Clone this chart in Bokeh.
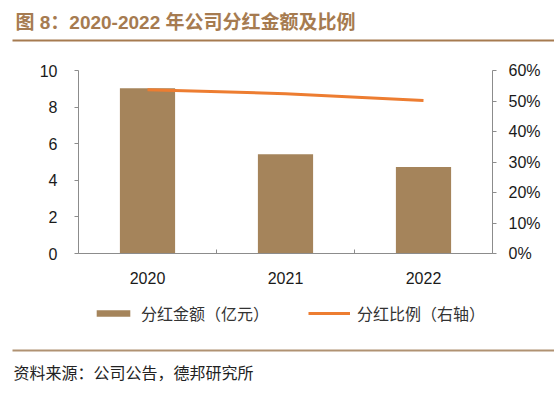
from bokeh.plotting import figure
from bokeh.models import (Range1d, LinearAxis, FixedTicker, NumeralTickFormatter,
                          Label, Legend, LegendItem, BoxAnnotation, ColumnDataSource)
from bokeh.embed import file_html
from bokeh.resources import INLINE

# ---- data ----
years = ["2020", "2021", "2022"]
dividend = [9.03, 5.43, 4.72]          # 分红金额（亿元）
ratio = [0.537, 0.524, 0.502]          # 分红比例（右轴）
left_ticks = [0, 2, 4, 6, 8, 10]
right_ticks = [0, 0.1, 0.2, 0.3, 0.4, 0.5, 0.6]

title_text = "图 8：2020-2022 年公司分红金额及比例"
source_text = "资料来源：公司公告，德邦研究所"
bar_label = "分红金额（亿元）"
line_label = "分红比例（右轴）"

BAR = "#a5845b"
LINE = "#ed7d31"
BROWN = "#a67b50"
AXIS = "#8c8c8c"
LAT = "Liberation Sans"
CJK = "Noto Sans CJK SC"

# ---- layout (pixels) ----
W, H = 554, 394
PLOT_L, PLOT_R = 78, 492          # x of left / right axis
PLOT_T, PLOT_B = 70, 253          # y of top / bottom of value axes
n = len(years)
px_per_slot = (PLOT_R - PLOT_L) / n
y_max = left_ticks[-1]
px_per_unit = (PLOT_B - PLOT_T) / y_max
pct_scale = right_ticks[-1] / y_max

x0 = -PLOT_L / px_per_slot
x1 = x0 + W / px_per_slot
y0 = -(H - PLOT_B) / px_per_unit
y1 = y0 + H / px_per_unit

xs = [i + 0.5 for i in range(n)]
src = ColumnDataSource(dict(x=xs, year=years, dividend=dividend, ratio=ratio))

p = figure(width=W, height=H, output_backend="svg", toolbar_location=None, title=None,
           x_range=Range1d(x0, x1), y_range=Range1d(y0, y1),
           x_axis_type=None, y_axis_type=None, min_border=0)
p.extra_y_ranges = {"pct": Range1d(y0 * pct_scale, y1 * pct_scale)}
p.outline_line_color = None
p.xgrid.visible = False
p.ygrid.visible = False


def style(ax):
    ax.axis_line_color = AXIS
    ax.major_label_text_font = LAT
    ax.major_label_text_font_size = "16px"
    ax.major_label_text_color = "#1a1a1a"
    ax.minor_tick_line_color = None


xax = LinearAxis(ticker=FixedTicker(ticks=xs, minor_ticks=list(range(n + 1))),
                 major_label_overrides={x: y for x, y in zip(xs, years)},
                 fixed_location=0, bounds=(0, n))
style(xax)
xax.major_tick_line_color = None
xax.minor_tick_line_color = AXIS
xax.minor_tick_in = 4
xax.minor_tick_out = 0
xax.major_label_standoff = 12
p.add_layout(xax, "below")

yax = LinearAxis(ticker=FixedTicker(ticks=left_ticks), fixed_location=0,
                 bounds=(0, y_max))
style(yax)
yax.major_tick_line_color = AXIS
yax.major_tick_in = 0
yax.major_tick_out = 4
yax.major_label_standoff = 17
p.add_layout(yax, "left")

rax = LinearAxis(y_range_name="pct", ticker=FixedTicker(ticks=right_ticks),
                 formatter=NumeralTickFormatter(format="0%"), fixed_location=n,
                 bounds=(0, right_ticks[-1]))
style(rax)
rax.major_tick_line_color = AXIS
rax.major_tick_in = 0
rax.major_tick_out = 4
rax.major_label_standoff = 12
p.add_layout(rax, "right")

bars = p.vbar(x="x", top="dividend", width=0.4, source=src, fill_color=BAR, line_color=None)
line = p.line(x="x", y="ratio", source=src, y_range_name="pct", line_color=LINE, line_width=3)

legend = Legend(items=[LegendItem(label=bar_label, renderers=[bars]),
                       LegendItem(label=line_label, renderers=[line])],
                orientation="horizontal", location=(92, 69.5),
                glyph_width=42, glyph_height=8, label_height=20, label_standoff=7, spacing=39,
                padding=0, margin=0, border_line_color=None, background_fill_alpha=0,
                label_text_font=CJK, label_text_font_size="16px", label_text_color="#333333")
p.add_layout(legend, "center")

# title, rules, source
p.add_layout(Label(x=15, y=H - 21.5, x_units="screen", y_units="screen", text=title_text,
                   text_font=f"{LAT}, {CJK}", text_font_size="19px", text_font_style="bold",
                   text_color=BROWN, text_baseline="middle"))
p.add_layout(BoxAnnotation(left=12, right=W, bottom=H - 41, top=H - 39,
                           left_units="screen", right_units="screen",
                           bottom_units="screen", top_units="screen",
                           fill_color=BROWN, fill_alpha=1, line_color=None))
p.add_layout(BoxAnnotation(left=12, right=W, bottom=H - 351, top=H - 349,
                           left_units="screen", right_units="screen",
                           bottom_units="screen", top_units="screen",
                           fill_color="#b09272", fill_alpha=1, line_color=None))
p.add_layout(Label(x=13, y=H - 371, x_units="screen", y_units="screen", text=source_text,
                   text_font=CJK, text_font_size="16px", text_color="#222222",
                   text_baseline="middle"))

open("out.html", "w").write(file_html(p, INLINE))
